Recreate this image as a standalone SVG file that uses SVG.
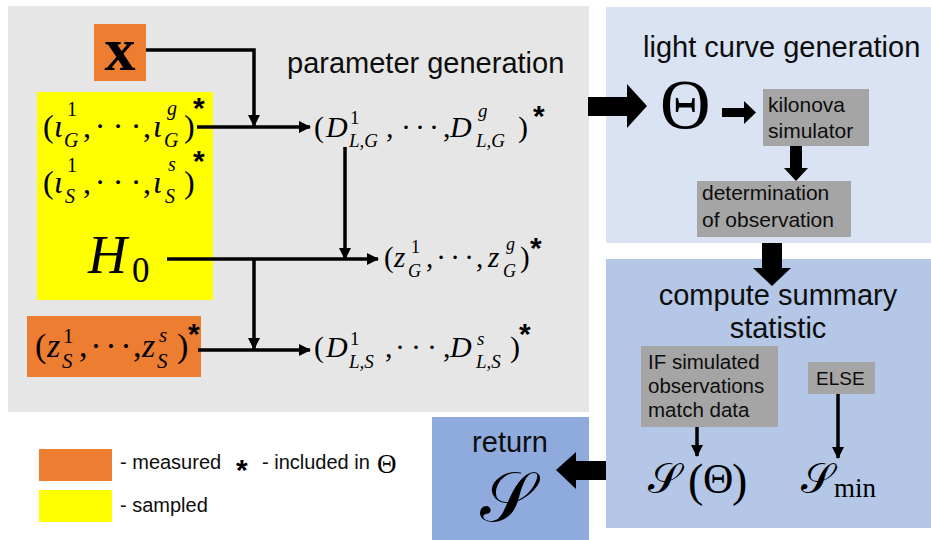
<svg xmlns="http://www.w3.org/2000/svg" width="931" height="540" viewBox="0 0 931 540">
<style>
  .sans{font-family:"Liberation Sans",Arial,sans-serif;fill:#0d0d0d}
  .title{font-size:29px}
  .box{font-size:21px}
  .leg{font-size:20px}
  .m{font-family:"Liberation Serif","Times New Roman",serif;fill:#000}
  .it{font-style:italic}
  .star{font-family:"Liberation Sans",Arial,sans-serif;font-weight:bold;font-size:30px;fill:#000}
  .cal{font-family:"DejaVu Serif","Liberation Serif",serif;fill:#000}
  .conn{fill:none;stroke:#000;stroke-width:3.5}
  .block{fill:#000}
</style>
<defs>
  <marker id="ah" viewBox="0 0 12 12" refX="11" refY="6" markerWidth="12" markerHeight="12" markerUnits="userSpaceOnUse" orient="auto">
    <path d="M0,0 L12,6 L0,12 Z" fill="#000"/>
  </marker>
</defs>

<!-- panels -->
<g id="panel-parameter">
  <rect x="8" y="6" width="581" height="406" fill="#e7e6e6"/>
  <text class="sans title" x="287" y="73">parameter generation</text>
</g>
<g id="panel-lightcurve">
  <rect x="606" y="7" width="325" height="236" fill="#dae3f3"/>
  <text class="sans title" x="643" y="57">light curve generation</text>
</g>
<g id="panel-summary">
  <rect x="606" y="259" width="325" height="269" fill="#b4c7e7"/>
  <text class="sans title" x="778" y="305" text-anchor="middle">compute summary</text>
  <text class="sans title" x="778" y="338" text-anchor="middle">statistic</text>
</g>

<!-- nodes -->
<g id="node-x">
  <rect x="94" y="24" width="52" height="57" fill="#ed7d31"/>
  <text class="m" x="120" y="70" font-size="62" font-weight="bold" text-anchor="middle">x</text>
</g>

<g id="node-sampled">
  <rect x="37" y="92" width="176" height="208" fill="#ffff00"/>
  <text class="m" font-size="32">
    <tspan x="43" y="137">(</tspan><tspan class="it" x="54" y="137">ι</tspan><tspan x="83" y="137">,</tspan><tspan x="143" y="137">,</tspan><tspan class="it" x="153" y="137">ι</tspan><tspan x="184" y="137">)</tspan>
  </text>
  <text class="m" font-size="32" text-anchor="middle"><tspan x="100" y="137">·</tspan><tspan x="118" y="137">·</tspan><tspan x="136" y="137">·</tspan></text>
  <text class="m" font-size="20"><tspan x="67" y="116">1</tspan><tspan class="it" x="64" y="147">G</tspan><tspan class="it" x="167" y="115">g</tspan><tspan class="it" x="164" y="147">G</tspan></text>
  <text class="star" x="193" y="118">*</text>

  <text class="m" font-size="32">
    <tspan x="43" y="193">(</tspan><tspan class="it" x="54" y="193">ι</tspan><tspan x="83" y="193">,</tspan><tspan x="143" y="193">,</tspan><tspan class="it" x="153" y="193">ι</tspan><tspan x="184" y="193">)</tspan>
  </text>
  <text class="m" font-size="32" text-anchor="middle"><tspan x="100" y="193">·</tspan><tspan x="118" y="193">·</tspan><tspan x="136" y="193">·</tspan></text>
  <text class="m" font-size="20"><tspan x="67" y="172">1</tspan><tspan class="it" x="65" y="203">S</tspan><tspan class="it" x="168" y="171">s</tspan><tspan class="it" x="165" y="203">S</tspan></text>
  <text class="star" x="193" y="171">*</text>

  <text class="m it" x="88" y="273" font-size="54">H</text>
  <text class="m" x="132" y="282" font-size="35">0</text>
</g>

<g id="node-zS">
  <rect x="27" y="316" width="174" height="61" fill="#ed7d31"/>
  <text class="m" font-size="34">
    <tspan x="35" y="357">(</tspan><tspan class="it" x="47" y="357">z</tspan><tspan x="79" y="357">,</tspan><tspan x="133" y="357">,</tspan><tspan class="it" x="142" y="357">z</tspan><tspan x="177" y="357">)</tspan>
  </text>
  <text class="m" font-size="34" text-anchor="middle"><tspan x="96" y="357">·</tspan><tspan x="111" y="357">·</tspan><tspan x="126" y="357">·</tspan></text>
  <text class="m" font-size="21"><tspan x="63" y="343">1</tspan><tspan class="it" x="62" y="368">S</tspan><tspan class="it" x="159" y="342">s</tspan><tspan class="it" x="157" y="368">S</tspan></text>
  <text class="star" x="188" y="344">*</text>
</g>

<g id="node-DLG">
  <text class="m" font-size="30">
    <tspan x="314" y="137">(</tspan><tspan class="it" x="326" y="137">D</tspan><tspan x="386" y="137">,</tspan><tspan x="443" y="137">,</tspan><tspan class="it" x="450" y="137">D</tspan><tspan x="518" y="137">)</tspan>
  </text>
  <text class="m" font-size="30" text-anchor="middle"><tspan x="406" y="137">·</tspan><tspan x="420" y="137">·</tspan><tspan x="434" y="137">·</tspan></text>
  <text class="m" font-size="19"><tspan x="350" y="124">1</tspan><tspan class="it" x="349" y="147">L,G</tspan><tspan class="it" x="478" y="117">g</tspan><tspan class="it" x="476" y="147">L,G</tspan></text>
  <text class="star" x="533" y="126">*</text>
</g>

<g id="node-zG">
  <text class="m" font-size="29">
    <tspan x="384" y="267">(</tspan><tspan class="it" x="394" y="267">z</tspan><tspan x="426" y="267">,</tspan><tspan x="476" y="267">,</tspan><tspan class="it" x="488" y="267">z</tspan><tspan x="520" y="267">)</tspan>
  </text>
  <text class="m" font-size="29" text-anchor="middle"><tspan x="441" y="267">·</tspan><tspan x="455" y="267">·</tspan><tspan x="469" y="267">·</tspan></text>
  <text class="m" font-size="18"><tspan x="411" y="253">1</tspan><tspan class="it" x="408" y="277">G</tspan><tspan class="it" x="506" y="250">g</tspan><tspan class="it" x="503" y="277">G</tspan></text>
  <text class="star" x="530" y="258">*</text>
</g>

<g id="node-DLS">
  <text class="m" font-size="30">
    <tspan x="314" y="357">(</tspan><tspan class="it" x="326" y="357">D</tspan><tspan x="385" y="357">,</tspan><tspan x="443" y="357">,</tspan><tspan class="it" x="450" y="357">D</tspan><tspan x="510" y="357">)</tspan>
  </text>
  <text class="m" font-size="30" text-anchor="middle"><tspan x="400" y="357">·</tspan><tspan x="416" y="357">·</tspan><tspan x="432" y="357">·</tspan></text>
  <text class="m" font-size="19"><tspan x="350" y="345">1</tspan><tspan class="it" x="349" y="368">L,S</tspan><tspan class="it" x="477" y="345">s</tspan><tspan class="it" x="476" y="368">L,S</tspan></text>
  <text class="star" x="519" y="344">*</text>
</g>

<g id="node-theta">
  <text class="m" x="660" y="128" font-size="70">Θ</text>
</g>

<g id="node-kilonova">
  <rect x="763" y="89" width="106" height="57" fill="#a5a5a5"/>
  <text class="sans box" x="768" y="112">kilonova</text>
  <text class="sans box" x="768" y="138">simulator</text>
</g>

<g id="node-determination">
  <rect x="697" y="181" width="154" height="56" fill="#a5a5a5"/>
  <text class="sans box" x="702" y="200">determination</text>
  <text class="sans box" x="702" y="227">of observation</text>
</g>

<g id="node-if">
  <rect x="641" y="346" width="137" height="81" fill="#a5a5a5"/>
  <text class="sans" font-size="20.5" x="648" y="369">IF simulated</text>
  <text class="sans" font-size="20.5" x="648" y="393">observations</text>
  <text class="sans" font-size="20.5" x="648" y="417">match data</text>
</g>

<g id="node-else">
  <rect x="808" y="362" width="67" height="32" fill="#a5a5a5"/>
  <text class="sans" font-size="19" x="816" y="385">ELSE</text>
</g>

<g id="node-StTheta">
  <text class="cal" x="648" y="493" font-size="42">𝒮</text>
  <text class="m" font-size="46"><tspan x="688" y="496">(</tspan><tspan x="732" y="496">)</tspan></text>
  <text class="m" x="703" y="493" font-size="42">Θ</text>
</g>

<g id="node-Smin">
  <text class="cal" x="801" y="493" font-size="42">𝒮</text>
  <text class="m" x="834" y="497" font-size="27">min</text>
</g>

<g id="node-return">
  <rect x="432" y="417" width="157" height="123" fill="#8faadc"/>
  <text class="sans" x="510" y="452" font-size="29" text-anchor="middle">return</text>
  <text class="cal" x="507" y="521" font-size="70" text-anchor="middle">𝒮</text>
</g>

<g id="legend">
  <rect x="39" y="449" width="73" height="32" fill="#ed7d31"/>
  <rect x="39" y="490" width="73" height="32" fill="#ffff00"/>
  <text class="sans leg" x="120" y="469">- measured</text>
  <text class="star" x="236" y="480">*</text>
  <text class="sans leg" x="262" y="469">- included in</text>
  <text class="m" x="377" y="473" font-size="27">Θ</text>
  <text class="sans leg" x="120" y="512">- sampled</text>
</g>

<!-- connectors -->
<g id="connectors">
  <path class="conn" d="M146,50 H254 V126" marker-end="url(#ah)"/>
  <path class="conn" d="M197,127 H310" marker-end="url(#ah)"/>
  <path class="conn" d="M345,147 V259" marker-end="url(#ah)"/>
  <path class="conn" d="M167,259 H378" marker-end="url(#ah)"/>
  <path class="conn" d="M254,259 V349" marker-end="url(#ah)"/>
  <path class="conn" d="M198,350 H310" marker-end="url(#ah)"/>
  <path class="conn" d="M697,427 V456" marker-end="url(#ah)"/>
  <path class="conn" d="M838,394 V458" marker-end="url(#ah)"/>
  <path class="block" d="M588,97 H627 V84 L647,106 L627,128 V116 H588 Z"/>
  <path class="block" d="M722,108 H744 V101 L756,112.5 L744,124 V117 H722 Z"/>
  <path class="block" d="M790,146 H802 V168 H808 L796,181 L784,168 H790 Z"/>
  <path class="block" d="M762,243 H782 V268 H791 L772,286 L753,268 H762 Z"/>
  <path class="block" d="M606,461 V480 H576 V489 L556,470 L576,452 V461 Z"/>
</g>
</svg>
